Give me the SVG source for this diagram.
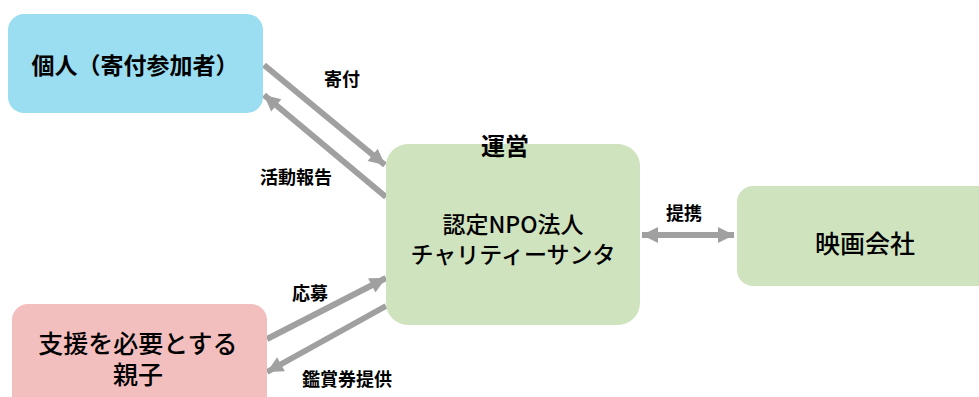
<svg xmlns="http://www.w3.org/2000/svg" width="979" height="397" viewBox="0 0 979 397">
<style>
text{font-family:"Noto Sans CJK JP","Noto Sans",sans-serif;fill:#000;text-anchor:middle;dominant-baseline:central}
.n{font-size:23px;font-weight:bold}
.c{font-size:23px;font-weight:500}
.b{font-size:25px;font-weight:500}
.l{font-size:18px;font-weight:bold}
.a{stroke:#A0A0A0;stroke-width:6;fill:none}
</style>
<defs>
<marker id="ah" viewBox="0 0 10 10" refX="10" refY="5" markerWidth="18" markerHeight="16" markerUnits="userSpaceOnUse" orient="auto-start-reverse">
<path d="M0,0 L10,5 L0,10 Z" fill="#A0A0A0"/>
</marker>
</defs>
<rect width="979" height="397" fill="#fff"/>
<g id="connectors">
<line class="a" x1="264" y1="65" x2="385" y2="165" marker-end="url(#ah)"/>
<line class="a" x1="386" y1="197" x2="264" y2="95" marker-end="url(#ah)"/>
<line class="a" x1="267" y1="339" x2="386" y2="278" marker-end="url(#ah)"/>
<line class="a" x1="386" y1="306" x2="267" y2="372" marker-end="url(#ah)"/>
<line class="a" x1="642" y1="235" x2="734" y2="235" marker-start="url(#ah)" marker-end="url(#ah)"/>
<text class="l" x="342" y="78">寄付</text>
<text class="l" x="296" y="176">活動報告</text>
<text class="l" x="310" y="292">応募</text>
<text class="l" x="347" y="378">鑑賞券提供</text>
<text class="l" x="684" y="212">提携</text>
</g>
<g id="individual">
<rect x="8" y="14" width="255" height="99" rx="16" fill="#9BDEF1"/>
<text class="n" x="135" y="64">個人（寄付参加者）</text>
</g>
<g id="npo">
<rect x="386" y="144" width="254" height="181" rx="22" fill="#D0E3BF"/>
<text class="n" x="505" y="144" style="font-size:24px">運営</text>
<text class="c" x="513" y="223">認定NPO法人</text>
<text class="c" x="513" y="253">チャリティーサンタ</text>
</g>
<g id="film">
<rect x="737" y="186" width="262" height="100" rx="16" fill="#D0E3BF"/>
<text class="b" x="865" y="242">映画会社</text>
</g>
<g id="family">
<rect x="12" y="304" width="255" height="120" rx="16" fill="#F2BEBE"/>
<text class="b" x="138" y="342">支援を必要とする</text>
<text class="b" x="138" y="373">親子</text>
</g>
</svg>
